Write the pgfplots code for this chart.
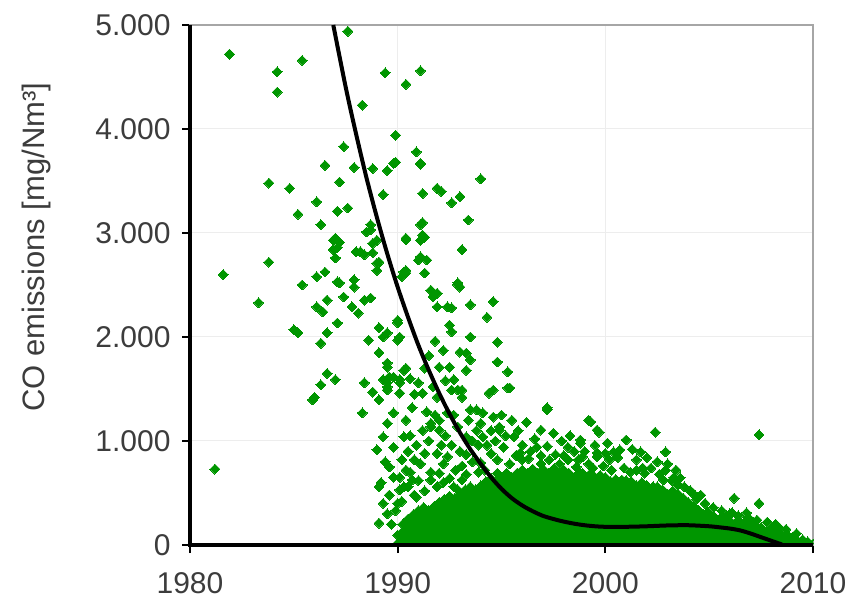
\documentclass[border=0pt]{standalone}
\usepackage{fontspec}
\setmainfont{Liberation Sans}
\usepackage{pgfplots}
\pgfplotsset{compat=1.18}
\definecolor{cogreen}{RGB}{0,150,0}
\definecolor{txtgray}{RGB}{60,60,60}
\pgfplotsset{gmark/.style={only marks, color=cogreen, mark=square*, mark size=3.5pt, mark options={rotate=45, fill=cogreen, draw=cogreen, line width=0pt}}}
\begin{document}
\begin{tikzpicture}
\begin{axis}[
  name=ax,
  scale only axis, width=623pt, height=520pt,
  xmin=1980, xmax=2010, ymin=0, ymax=5000,
  clip marker paths=true,
  xtick={1980,1990,2000,2010}, xticklabels={1980,1990,2000,2010},
  ytick={0,1000,2000,3000,4000,5000},
  yticklabels={0,1.000,2.000,3.000,4.000,5.000},
  /pgf/number format/assume math mode=true,
  tick align=outside, xtick pos=bottom, ytick pos=left,
  major tick length=8pt,
  tick style={black, line width=2pt},
  ticklabel style={font=\fontsize{30}{30}\selectfont, text=txtgray},
  yticklabel style={xshift=-8pt},
  xticklabel style={yshift=-16pt},
  grid=major, grid style={black!7, line width=1pt},
  axis line style={draw=black!35, line width=1.6pt},
  ylabel={CO emissions [mg/Nm³]},
  ylabel style={at={(axis description cs:-0.2456,0.573)}, anchor=center, font=\fontsize{31}{31}\selectfont, text=txtgray},
]
% dense base of measurements
\addplot[gmark] coordinates {
(1990,15)(1990,95)
(1990.25,50)(1990.25,130)(1990.25,200)
(1990.5,10)(1990.5,90)(1990.5,170)(1990.5,250)
(1990.75,50)(1990.75,130)(1990.75,210)(1990.75,290)
(1991,10)(1991,90)(1991,170)(1991,250)(1991,330)
(1991.25,50)(1991.25,130)(1991.25,210)(1991.25,290)(1991.25,360)
(1991.5,10)(1991.5,90)(1991.5,170)(1991.5,250)(1991.5,330)
(1991.75,50)(1991.75,130)(1991.75,210)(1991.75,290)(1991.75,370)
(1992,10)(1992,90)(1992,170)(1992,250)(1992,330)(1992,410)
(1992.25,50)(1992.25,130)(1992.25,210)(1992.25,290)(1992.25,370)(1992.25,440)
(1992.5,10)(1992.5,90)(1992.5,170)(1992.5,250)(1992.5,330)(1992.5,410)(1992.5,470)
(1992.75,50)(1992.75,130)(1992.75,210)(1992.75,290)(1992.75,370)(1992.75,450)
(1993,10)(1993,90)(1993,170)(1993,250)(1993,330)(1993,410)(1993,490)
(1993.25,50)(1993.25,130)(1993.25,210)(1993.25,290)(1993.25,370)(1993.25,450)(1993.25,530)
(1993.5,10)(1993.5,90)(1993.5,170)(1993.5,250)(1993.5,330)(1993.5,410)(1993.5,490)(1993.5,560)
(1993.75,50)(1993.75,130)(1993.75,210)(1993.75,290)(1993.75,370)(1993.75,450)(1993.75,530)
(1994,10)(1994,90)(1994,170)(1994,250)(1994,330)(1994,410)(1994,490)(1994,570)
(1994.25,50)(1994.25,130)(1994.25,210)(1994.25,290)(1994.25,370)(1994.25,450)(1994.25,530)(1994.25,610)
(1994.5,10)(1994.5,90)(1994.5,170)(1994.5,250)(1994.5,330)(1994.5,410)(1994.5,490)(1994.5,570)(1994.5,640)
(1994.75,50)(1994.75,130)(1994.75,210)(1994.75,290)(1994.75,370)(1994.75,450)(1994.75,530)(1994.75,610)
(1995,10)(1995,90)(1995,170)(1995,250)(1995,330)(1995,410)(1995,490)(1995,570)(1995,650)
(1995.25,50)(1995.25,130)(1995.25,210)(1995.25,290)(1995.25,370)(1995.25,450)(1995.25,530)(1995.25,610)(1995.25,690)
(1995.5,10)(1995.5,90)(1995.5,170)(1995.5,250)(1995.5,330)(1995.5,410)(1995.5,490)(1995.5,570)(1995.5,650)
(1995.75,50)(1995.75,130)(1995.75,210)(1995.75,290)(1995.75,370)(1995.75,450)(1995.75,530)(1995.75,610)(1995.75,690)
(1996,10)(1996,90)(1996,170)(1996,250)(1996,330)(1996,410)(1996,490)(1996,570)(1996,650)(1996,720)
(1996.25,50)(1996.25,130)(1996.25,210)(1996.25,290)(1996.25,370)(1996.25,450)(1996.25,530)(1996.25,610)(1996.25,690)
(1996.5,10)(1996.5,90)(1996.5,170)(1996.5,250)(1996.5,330)(1996.5,410)(1996.5,490)(1996.5,570)(1996.5,650)(1996.5,730)
(1996.75,50)(1996.75,130)(1996.75,210)(1996.75,290)(1996.75,370)(1996.75,450)(1996.75,530)(1996.75,610)(1996.75,690)
(1997,10)(1997,90)(1997,170)(1997,250)(1997,330)(1997,410)(1997,490)(1997,570)(1997,650)(1997,730)
(1997.25,50)(1997.25,130)(1997.25,210)(1997.25,290)(1997.25,370)(1997.25,450)(1997.25,530)(1997.25,610)(1997.25,690)
(1997.5,10)(1997.5,90)(1997.5,170)(1997.5,250)(1997.5,330)(1997.5,410)(1997.5,490)(1997.5,570)(1997.5,650)(1997.5,730)
(1997.75,50)(1997.75,130)(1997.75,210)(1997.75,290)(1997.75,370)(1997.75,450)(1997.75,530)(1997.75,610)(1997.75,690)
(1998,10)(1998,90)(1998,170)(1998,250)(1998,330)(1998,410)(1998,490)(1998,570)(1998,650)(1998,720)
(1998.25,50)(1998.25,130)(1998.25,210)(1998.25,290)(1998.25,370)(1998.25,450)(1998.25,530)(1998.25,610)(1998.25,690)
(1998.5,10)(1998.5,90)(1998.5,170)(1998.5,250)(1998.5,330)(1998.5,410)(1998.5,490)(1998.5,570)(1998.5,650)
(1998.75,50)(1998.75,130)(1998.75,210)(1998.75,290)(1998.75,370)(1998.75,450)(1998.75,530)(1998.75,610)(1998.75,690)
(1999,10)(1999,90)(1999,170)(1999,250)(1999,330)(1999,410)(1999,490)(1999,570)(1999,650)
(1999.25,50)(1999.25,130)(1999.25,210)(1999.25,290)(1999.25,370)(1999.25,450)(1999.25,530)(1999.25,610)(1999.25,680)
(1999.5,10)(1999.5,90)(1999.5,170)(1999.5,250)(1999.5,330)(1999.5,410)(1999.5,490)(1999.5,570)(1999.5,650)
(1999.75,50)(1999.75,130)(1999.75,210)(1999.75,290)(1999.75,370)(1999.75,450)(1999.75,530)(1999.75,610)(1999.75,670)
(2000,10)(2000,90)(2000,170)(2000,250)(2000,330)(2000,410)(2000,490)(2000,570)(2000,650)
(2000.25,50)(2000.25,130)(2000.25,210)(2000.25,290)(2000.25,370)(2000.25,450)(2000.25,530)(2000.25,610)
(2000.5,10)(2000.5,90)(2000.5,170)(2000.5,250)(2000.5,330)(2000.5,410)(2000.5,490)(2000.5,570)(2000.5,630)
(2000.75,50)(2000.75,130)(2000.75,210)(2000.75,290)(2000.75,370)(2000.75,450)(2000.75,530)(2000.75,610)
(2001,10)(2001,90)(2001,170)(2001,250)(2001,330)(2001,410)(2001,490)(2001,570)(2001,620)
(2001.25,50)(2001.25,130)(2001.25,210)(2001.25,290)(2001.25,370)(2001.25,450)(2001.25,530)(2001.25,610)
(2001.5,10)(2001.5,90)(2001.5,170)(2001.5,250)(2001.5,330)(2001.5,410)(2001.5,490)(2001.5,570)
(2001.75,50)(2001.75,130)(2001.75,210)(2001.75,290)(2001.75,370)(2001.75,450)(2001.75,530)(2001.75,600)
(2002,10)(2002,90)(2002,170)(2002,250)(2002,330)(2002,410)(2002,490)(2002,570)
(2002.25,50)(2002.25,130)(2002.25,210)(2002.25,290)(2002.25,370)(2002.25,450)(2002.25,530)
(2002.5,10)(2002.5,90)(2002.5,170)(2002.5,250)(2002.5,330)(2002.5,410)(2002.5,490)(2002.5,560)
(2002.75,50)(2002.75,130)(2002.75,210)(2002.75,290)(2002.75,370)(2002.75,450)(2002.75,530)
(2003,10)(2003,90)(2003,170)(2003,250)(2003,330)(2003,410)(2003,490)
(2003.25,50)(2003.25,130)(2003.25,210)(2003.25,290)(2003.25,370)(2003.25,450)(2003.25,520)
(2003.5,10)(2003.5,90)(2003.5,170)(2003.5,250)(2003.5,330)(2003.5,410)(2003.5,490)
(2003.75,50)(2003.75,130)(2003.75,210)(2003.75,290)(2003.75,370)(2003.75,450)
(2004,10)(2004,90)(2004,170)(2004,250)(2004,330)(2004,410)
(2004.25,50)(2004.25,130)(2004.25,210)(2004.25,290)(2004.25,370)
(2004.5,10)(2004.5,90)(2004.5,170)(2004.5,250)(2004.5,330)
(2004.75,50)(2004.75,130)(2004.75,210)(2004.75,290)
(2005,10)(2005,90)(2005,170)(2005,250)(2005,290)
(2005.25,50)(2005.25,130)(2005.25,210)(2005.25,270)
(2005.5,10)(2005.5,90)(2005.5,170)(2005.5,250)
(2005.75,50)(2005.75,130)(2005.75,210)
(2006,10)(2006,90)(2006,170)(2006,230)
(2006.25,50)(2006.25,130)(2006.25,210)
(2006.5,10)(2006.5,90)(2006.5,170)
(2006.75,50)(2006.75,130)(2006.75,200)
(2007,10)(2007,90)(2007,170)
(2007.25,50)(2007.25,130)(2007.25,180)
(2007.5,10)(2007.5,90)(2007.5,170)
(2007.75,50)(2007.75,130)
(2008,10)(2008,90)(2008,150)
(2008.25,50)(2008.25,120)
(2008.5,10)(2008.5,90)
(2008.75,50)(2008.75,100)
(2009,10)(2009,70)
(2009.25,40)
(2009.5,10)(2009.5,50)
(2009.75,30)
(2010,10)
};
% scattered measurements
\addplot[gmark] coordinates {
(1981.2,730)(1981.6,2600)(1981.9,4720)(1983.3,2330)(1983.8,2720)(1983.8,3480)
(1984.2,4550)(1984.2,4355)(1984.8,3430)(1985.0,2070)(1985.2,2040)(1985.2,3180)
(1985.4,4660)(1985.4,2500)(1985.9,1395)(1986.0,1420)(1986.1,3300)(1986.1,2580)
(1986.1,2290)(1986.3,3080)(1986.3,1940)(1986.3,1540)(1986.4,2240)(1986.5,3650)
(1986.5,2625)(1986.6,2355)(1986.6,2040)(1986.6,1650)(1986.9,2930)(1986.9,2840)
(1987.0,2760)(1987.0,2950)(1987.0,1590)(1987.1,3210)(1987.1,2860)(1987.1,2530)
(1987.1,2135)(1987.2,3490)(1987.2,2910)(1987.2,2520)(1987.4,3830)(1987.4,2385)
(1987.6,4940)(1987.6,3240)(1987.9,3630)(1987.9,2550)(1987.9,2480)(1987.8,2290)
(1988.0,2820)(1988.1,2230)(1988.2,2820)(1988.3,4230)(1988.3,1270)(1988.4,2790)
(1988.4,2355)(1988.4,1560)(1988.5,3010)(1988.6,1970)(1988.7,3080)(1988.7,3030)
(1988.7,2375)(1988.8,3620)(1988.8,2900)(1988.8,2810)(1988.8,1470)(1989.0,2930)
(1989.0,2710)(1989.0,2640)(1989.1,2720)(1989.1,2090)(1989.1,1850)(1989.1,1395)
(1989.3,3370)(1989.3,2000)(1989.3,1590)(1989.3,1040)(1989.4,4540)(1989.5,3600)
(1989.5,2040)(1989.5,1750)(1989.5,1560)(1989.5,1710)(1989.5,1490)(1989.5,1520)
(1989.5,1170)(1989.6,1615)(1989.6,750)(1989.8,3670)(1989.8,1615)(1989.8,1270)
(1989.8,940)(1989.9,3940)(1989.9,3680)(1990.0,2160)(1990.0,2135)(1990.0,1970)
(1990.0,400)(1990.1,2000)(1990.1,1590)(1990.1,1460)(1990.1,1560)(1990.1,530)
(1990.2,2580)(1990.3,2625)(1990.3,1680)(1990.3,1040)(1990.4,4430)(1990.4,2950)
(1990.4,2940)(1990.4,2615)(1990.4,2640)(1990.4,1700)(1990.4,1200)(1990.4,720)
(1990.7,1320)(1990.7,625)(1990.9,3780)(1990.9,460)(1991.0,2740)(1991.1,4560)
(1991.1,3660)(1991.1,3670)(1991.1,3080)(1991.1,2930)(1991.1,2770)(1991.2,3380)
(1991.2,3100)(1991.2,2980)(1991.2,1460)(1991.3,2615)(1991.3,2960)(1991.4,2740)
(1991.6,2450)(1991.6,1170)(1991.6,1135)(1991.6,625)(1991.7,2385)(1991.7,1520)
(1991.9,3430)(1991.9,2420)(1991.9,2290)(1992.0,1710)(1992.0,1200)(1992.0,1105)
(1992.0,690)(1992.1,3400)(1992.4,2290)(1992.4,1270)(1992.4,850)(1992.5,2115)
(1992.5,1710)(1992.6,3290)(1992.6,2280)(1992.6,2050)(1992.6,1490)(1992.7,1590)
(1992.9,2500)(1992.9,2520)(1992.9,1490)(1992.9,1135)(1992.9,530)(1993.0,3350)
(1993.0,1855)(1993.0,2480)(1993.1,2840)(1993.1,1490)(1993.1,1420)(1993.1,625)
(1993.3,1845)(1993.3,1680)(1993.3,1040)(1993.4,3125)(1993.5,2310)(1993.5,2000)
(1993.5,1780)(1993.5,1300)(1993.8,1300)(1994.0,3520)(1994.0,1170)(1994.0,790)
(1994.1,1270)(1994.1,1040)(1994.3,2190)(1994.4,1460)(1994.6,2340)(1994.6,1490)
(1994.6,1230)(1994.8,1950)(1994.8,1760)(1994.8,690)(1994.9,1135)(1994.9,1105)
(1995.3,1665)(1995.3,1510)(1995.4,1510)(1995.6,1040)(1995.6,625)(1995.9,885)
(1996.7,940)(1996.7,690)(1996.9,1105)(1997.2,1300)(1997.2,1320)(1997.5,1075)
(1997.5,720)(1998.2,940)(1998.6,750)(1998.8,1010)(1998.8,980)(1998.9,690)
(1999.1,560)(1999.2,1200)(1999.3,1185)(1999.6,1105)(1999.6,885)(1999.6,850)
(1999.7,1085)(1999.7,625)(2000.2,820)(2000.4,895)(2000.4,560)(2000.7,915)
(2000.8,625)(2001.0,1010)(2001.2,530)(2001.5,720)(2001.7,895)(2001.8,740)
(2002.3,560)(2002.4,1085)(2002.6,460)(2002.8,625)(2002.9,895)(2003.3,650)
(2003.6,645)(2003.6,460)(2004.1,365)(2004.2,500)(2004.6,480)(2004.9,310)
(2005.7,270)(2006.1,310)(2006.2,450)(2006.5,210)(2006.8,240)(2006.8,310)
(2007.1,210)(2007.4,1060)(2007.4,400)(2008.4,160)(2009.2,20)(2009.9,0)
(1990.2,420)(1990.5,560)(1990.8,480)(1991.0,620)(1991.3,520)(1991.6,700)
(1991.9,560)(1992.2,780)(1992.5,640)(1992.8,720)(1993.0,900)(1993.3,680)
(1993.6,800)(1993.9,960)(1994.2,720)(1994.5,880)(1994.8,820)(1995.1,940)
(1995.4,780)(1995.7,860)(1996.0,960)(1996.3,830)(1996.6,1020)(1996.9,860)
(1997.2,950)(1997.6,870)(1997.9,1000)(1998.2,820)(1998.5,900)(1998.9,850)
(1999.2,780)(1999.5,960)(1999.9,760)(2000.3,720)(2000.6,840)(2000.9,740)
(2001.2,700)(2001.5,820)(2001.9,690)(2002.2,740)(2002.6,680)(2002.9,720)
(2003.2,620)(2003.5,580)(2003.8,560)(2004.1,520)(2004.4,440)(2004.8,400)
(2005.2,360)(2005.6,330)(2006.0,300)(2006.4,280)(2006.9,260)(2007.3,240)
(2007.8,220)(2008.2,200)(2008.7,150)(2009.2,110)
(1989.1,210)(1989.3,400)(1989.5,300)(1989.2,600)(1989.6,480)(1989.4,800)
(1989.8,650)(1989.0,915)(1989.1,560)(1989.7,200)(1989.9,330)
(1990.1,650)(1990.3,560)(1990.6,700)(1990.2,820)(1990.5,900)(1990.8,820)
(1990.6,1050)(1990.9,960)(1991.1,780)(1991.3,880)(1991.5,1000)(1991.2,1100)
(1991.4,1280)(1991.8,1250)(1991.9,880)(1992.1,960)(1992.3,1050)(1992.6,960)
(1992.7,1250)(1992.2,600)(1992.7,560)(1993.1,760)(1993.4,1200)(1993.6,1000)
(1993.8,1100)(1993.3,870)(1993.9,700)(1994.3,960)(1994.5,1100)(1994.7,1000)
(1995.0,1250)(1995.2,1050)(1995.5,1200)(1995.8,1100)(1996.2,1180)(1996.0,820)
(1996.4,900)(1996.9,780)(1997.3,820)(1997.8,780)(1998.3,1050)(1998.0,860)
(1998.7,820)(1999.0,900)(1999.4,740)(2000.0,880)(2000.1,980)(2001.3,920)
(2002.0,840)(2002.5,800)(2003.0,780)(2003.4,720)(1990.8,1450)(1991.0,1560)
(1990.6,1600)(1991.3,1700)(1991.5,1820)(1991.8,1960)(1992.2,1870)(1992.3,1580)
(1991.9,1420)
};
% trend curve
\addplot[black, line width=4pt, smooth, tension=0.5] coordinates {
(1986.9,5000)(1987.5,4400)(1988.0,3950)(1988.5,3530)(1989.0,3150)(1989.5,2800)
(1990.0,2480)(1990.5,2190)(1991.0,1920)(1991.5,1680)(1992.0,1460)(1992.5,1260)
(1993.0,1080)(1993.5,920)(1994.0,780)(1994.5,650)(1995.0,540)(1995.5,450)
(1996.0,380)(1996.5,325)(1997.0,280)(1997.5,250)(1998.0,225)(1998.5,205)
(1999.0,190)(1999.5,180)(2000.0,175)(2001.0,175)(2002.0,180)(2003.0,188)
(2004.0,190)(2005.0,180)(2005.5,170)(2006.0,158)(2006.5,140)(2007.0,110)
(2007.5,75)(2008.0,40)(2008.5,5)
};
\end{axis}
\draw[black, line width=3.5pt] (ax.north west) -- (ax.south west) -- (ax.south east);
\pgfresetboundingbox
\path ([shift={(-190pt,-62pt)}]ax.south west) rectangle ([shift={(54pt,25pt)}]ax.north east);
\end{tikzpicture}
\end{document}
